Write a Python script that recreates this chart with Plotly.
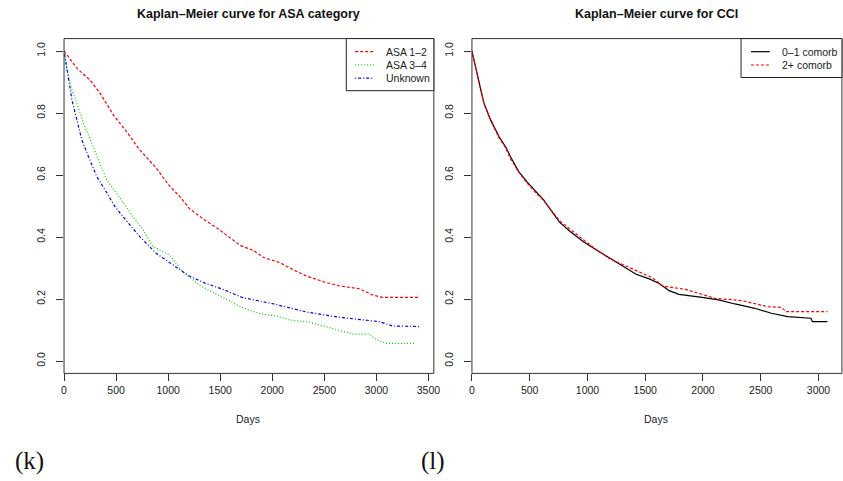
import plotly.graph_objects as go

# ---- Kaplan-Meier estimates: ASA category ----
asa12_days = [0, 124, 250, 346, 473, 600, 720, 886, 1012, 1108, 1203, 1350, 1473, 1600,
              1695, 1822, 1917, 2076, 2203, 2330, 2489, 2648, 2838, 2965, 3060, 3409]
asa12_surv = [1.0, 0.944, 0.906, 0.864, 0.794, 0.740, 0.684, 0.622, 0.565, 0.532, 0.492,
              0.455, 0.428, 0.395, 0.372, 0.356, 0.334, 0.317, 0.294, 0.274, 0.256, 0.242,
              0.233, 0.213, 0.205, 0.205]

asa34_days = [0, 29, 76, 124, 187, 251, 314, 410, 505, 600, 663, 759, 854, 1012, 1140,
              1298, 1521, 1711, 1886, 2044, 2171, 2330, 2489, 2648, 2775, 2933, 2997,
              3092, 3362]
asa34_surv = [1.0, 0.94, 0.874, 0.831, 0.767, 0.713, 0.659, 0.584, 0.541, 0.493, 0.465,
              0.423, 0.369, 0.342, 0.288, 0.245, 0.207, 0.172, 0.152, 0.145, 0.132, 0.127,
              0.113, 0.098, 0.087, 0.087, 0.070, 0.057, 0.057]

unk_days = [0, 44, 76, 124, 171, 235, 314, 410, 489, 568, 727, 886, 1044, 1203, 1362,
            1521, 1711, 2013, 2330, 2648, 3029, 3155, 3409]
unk_surv = [1.0, 0.906, 0.842, 0.777, 0.713, 0.659, 0.595, 0.543, 0.498, 0.465, 0.401,
            0.347, 0.310, 0.274, 0.250, 0.232, 0.205, 0.184, 0.158, 0.141, 0.127, 0.113,
            0.111]

# ---- Kaplan-Meier estimates: Charlson comorbidity index ----
cci01_days = [0, 34, 63, 105, 163, 234, 291, 334, 405, 477, 565, 620, 700, 760, 850, 965,
              1079, 1250, 1421, 1535, 1621, 1707, 1792, 1992, 2135, 2277, 2449, 2592,
              2734, 2934, 2948, 3077]
cci01_surv = [1.0, 0.949, 0.896, 0.831, 0.777, 0.724, 0.691, 0.659, 0.611, 0.578, 0.541,
              0.520, 0.478, 0.447, 0.418, 0.385, 0.358, 0.318, 0.280, 0.265, 0.250, 0.227,
              0.215, 0.205, 0.197, 0.184, 0.170, 0.154, 0.143, 0.138, 0.127, 0.127]

cci2_days = [0, 34, 63, 105, 163, 234, 291, 334, 405, 477, 565, 620, 700, 760, 850, 965,
             1079, 1193, 1364, 1564, 1650, 1850, 2106, 2335, 2563, 2677, 2720, 3077]
cci2_surv = [1.0, 0.947, 0.893, 0.828, 0.775, 0.720, 0.688, 0.652, 0.609, 0.574, 0.538,
             0.518, 0.480, 0.452, 0.425, 0.390, 0.358, 0.330, 0.302, 0.268, 0.242, 0.231,
             0.202, 0.195, 0.175, 0.173, 0.159, 0.159]

left_ticks = [0, 500, 1000, 1500, 2000, 2500, 3000, 3500]
right_ticks = [0, 500, 1000, 1500, 2000, 2500, 3000]
surv_ticks = [0.0, 0.2, 0.4, 0.6, 0.8, 1.0]
surv_labels = ["0.0", "0.2", "0.4", "0.6", "0.8", "1.0"]

W, H = 843, 481
SANS = "Liberation Sans, Arial, sans-serif"
SERIF = "Liberation Serif, Times New Roman, serif"


def px(x):
    return x / W


def py(y):
    return 1 - y / H


# panel geometry (pixels)
L_X0, L_X1 = 61.7, 435.5
R_X0, R_X1 = 474.0, 848.0
Y_TOP, Y_BOT = 38.6, 373.4

fig = go.Figure()

left_series = [
    (asa12_days, asa12_surv, "#FF0000", "3px,2px", "ASA 1–2"),
    (asa34_days, asa34_surv, "#00CD00", "1px,2px", "ASA 3–4"),
    (unk_days, unk_surv, "#0000FF", "1px,2px,3px,2px", "Unknown"),
]
right_series = [
    (cci01_days, cci01_surv, "#000000", "solid", "0–1 comorb"),
    (cci2_days, cci2_surv, "#FF0000", "3px,2px", "2+ comorb"),
]

for d, s, c, dash, name in left_series:
    fig.add_trace(go.Scatter(x=d, y=s, mode="lines", name=name, xaxis="x", yaxis="y",
                             line=dict(color=c, width=1.2, dash=dash), showlegend=False))
for d, s, c, dash, name in right_series:
    fig.add_trace(go.Scatter(x=d, y=s, mode="lines", name=name, xaxis="x2", yaxis="y2",
                             line=dict(color=c, width=1.2, dash=dash), showlegend=False))

axis_font = dict(family=SANS, size=10.5, color="#222")
xcommon = dict(ticks="outside", ticklen=7, tickcolor="#333", tickwidth=1,
               showgrid=False, zeroline=False, showline=False, tickfont=axis_font)
ycommon = dict(ticks="outside", ticklen=7, tickcolor="#333", tickwidth=1,
               showgrid=False, zeroline=False, showline=False, tickfont=axis_font,
               tickvals=surv_ticks, ticktext=surv_labels, tickangle=-90,
               ticklabelstandoff=7,
               range=[-0.04, 1.04], domain=[py(Y_BOT), py(Y_TOP)])

fig.update_layout(
    width=W, height=H,
    margin=dict(l=0, r=0, t=0, b=0),
    paper_bgcolor="white", plot_bgcolor="white",
    xaxis=dict(domain=[px(L_X0), px(L_X1)], range=[0, 3552], tickvals=left_ticks,
               anchor="y", **xcommon),
    yaxis=dict(anchor="x", **ycommon),
    xaxis2=dict(domain=[px(R_X0), 1.0], range=[0, (W - R_X0) / 0.11677],
                tickvals=right_ticks, anchor="y2", **xcommon),
    yaxis2=dict(anchor="x2", **ycommon),
)

shapes = []
# plot frames
for x0, x1 in [(L_X0, L_X1), (R_X0, R_X1)]:
    shapes.append(dict(type="rect", xref="paper", yref="paper",
                       x0=px(x0), x1=px(x1), y0=py(Y_BOT), y1=py(Y_TOP),
                       line=dict(color="#333", width=1), fillcolor="rgba(0,0,0,0)"))

annotations = []


def legend(box, line_x, text_x, rows, series):
    shapes.append(dict(type="rect", xref="paper", yref="paper",
                       x0=px(box[0]), x1=px(box[1]), y0=py(box[3]), y1=py(box[2]),
                       line=dict(color="#222", width=1), fillcolor="white"))
    for yrow, (_, _, c, dash, name) in zip(rows, series):
        shapes.append(dict(type="line", xref="paper", yref="paper",
                           x0=px(line_x[0]), x1=px(line_x[1]), y0=py(yrow), y1=py(yrow),
                           line=dict(color=c, width=1.2, dash=dash)))
        annotations.append(dict(x=px(text_x), y=py(yrow), xref="paper", yref="paper",
                                text=name, showarrow=False, xanchor="left",
                                yanchor="middle",
                                font=dict(family=SANS, size=10.5, color="#222")))


legend((347, L_X1, Y_TOP, 90.7), (356, 375), 385, [51.7, 64.9, 78.1], left_series)
legend((746, R_X1, Y_TOP, 77.5), (756, 775), 785.5, [51.7, 65.0], right_series)

# titles, axis labels and panel tags
for x, txt in [(248.5, "Kaplan–Meier curve for ASA category"),
               (661, "Kaplan–Meier curve for CCI")]:
    annotations.append(dict(x=px(x), y=py(13.5), xref="paper", yref="paper",
                            text="<b>" + txt + "</b>", showarrow=False,
                            xanchor="center", yanchor="middle",
                            font=dict(family=SANS, size=12.5, color="#111")))
for x in [248, 660.5]:
    annotations.append(dict(x=px(x), y=py(419), xref="paper", yref="paper",
                            text="Days", showarrow=False, xanchor="center",
                            yanchor="middle", font=dict(family=SANS, size=10.5,
                                                        color="#222")))
for x, txt in [(26.7, "(k)"), (434.7, "(l)")]:
    annotations.append(dict(x=px(x), y=py(461), xref="paper", yref="paper",
                            text=txt, showarrow=False, xanchor="center",
                            yanchor="middle", font=dict(family=SERIF, size=25,
                                                        color="#111")))

fig.update_layout(shapes=shapes, annotations=annotations)
fig.write_html("out.html")
